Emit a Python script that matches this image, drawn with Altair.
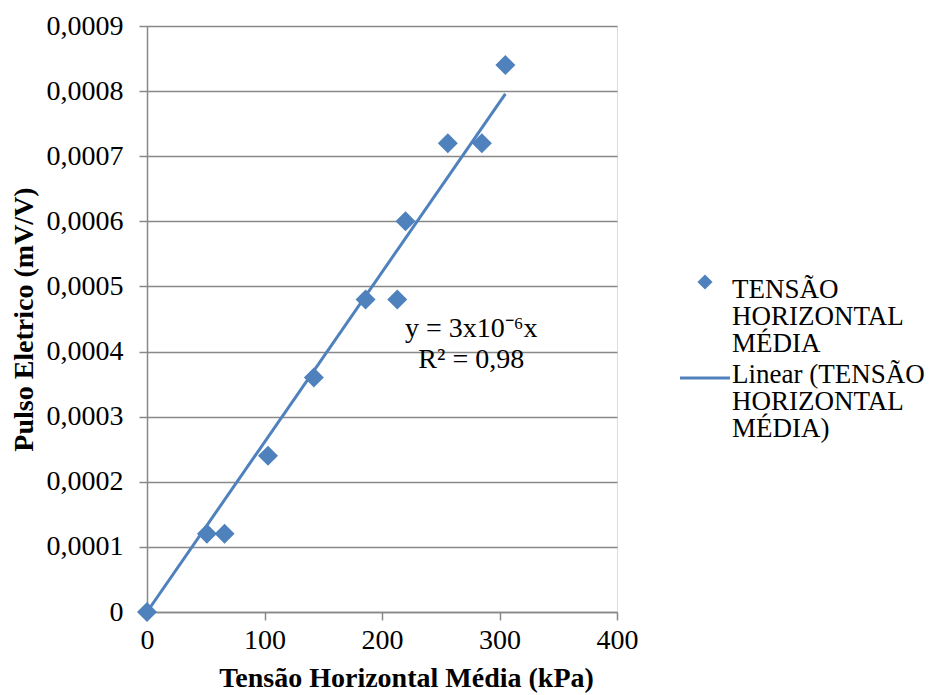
import altair as alt
import numpy as np
import pandas as pd

# Data
tensao_kpa = [0, 51, 66, 103, 142, 186, 213, 220, 256, 285, 305]
pulso_mvv = [0, 0.00012, 0.00012, 0.00024, 0.00036, 0.00048, 0.00048, 0.0006, 0.00072, 0.00072, 0.00084]

x_ticks = [0, 100, 200, 300, 400]
y_ticks = [i / 10000 for i in range(10)]

series_label = "TENSÃO\nHORIZONTAL\nMÉDIA"
trend_label = "Linear (TENSÃO\nHORIZONTAL\nMÉDIA)"
x_title = "Tensão Horizontal Média (kPa)"
y_title = "Pulso Eletrico (mV/V)"
eq_line1 = "y = 3x10⁻⁶x"
eq_line2 = "R² = 0,98"
eq_pos_x = 276
eq_pos_y1 = 0.000423
eq_pos_y2 = 0.000375

BLUE = "#4F81BD"
GRAY = "#888888"
FONT = "Liberation Serif"
FS = 28
LEG_FS = 27

pts = pd.DataFrame({"x": tensao_kpa, "y": pulso_mvv})
one = pd.DataFrame({"k": [0]})

# linear trend through the origin (least squares)
xa = np.array(tensao_kpa, dtype=float)
ya = np.array(pulso_mvv, dtype=float)
slope = float((xa * ya).sum() / (xa * xa).sum())
trend = pd.DataFrame({"x": [0.0, xa.max()], "y": [0.0, slope * xa.max()]})

xscale = alt.Scale(domain=[0, 400], nice=False)
yscale = alt.Scale(domain=[0, 0.0009], nice=False)

xaxis = alt.Axis(
    values=x_ticks, grid=False, domainColor=GRAY, domainWidth=1.5,
    tickColor=GRAY, tickWidth=1.5, tickSize=8, labelFont=FONT, labelFontSize=FS,
    labelColor="black", labelPadding=6, labelFlush=False,
    title=x_title, titleFont=FONT, titleFontSize=FS,
    titleFontWeight="bold", titleColor="black", titleX=259, titleY=74,
    titleAlign="center", titleBaseline="alphabetic",
)
yaxis = alt.Axis(
    values=y_ticks, grid=True, gridColor=GRAY, gridWidth=1.5,
    domainColor=GRAY, domainWidth=1.5, tickColor=GRAY, tickWidth=1.5, tickSize=8,
    labelFont=FONT, labelFontSize=FS, labelColor="black", labelPadding=16,
    labelFlush=False,
    labelExpr="datum.value == 0 ? '0' : replace(format(datum.value, '.4f'), '.', ',')",
    title=y_title, titleFont=FONT, titleFontSize=FS,
    titleFontWeight="bold", titleColor="black", titleAngle=270,
    titleX=-123, titleY=293, titleAlign="center", titleBaseline="middle",
)

points = alt.Chart(pts).mark_point(
    shape="diamond", filled=True, size=400, color=BLUE, opacity=1
).encode(
    x=alt.X("x:Q", scale=xscale, axis=xaxis),
    y=alt.Y("y:Q", scale=yscale, axis=yaxis),
)

line = alt.Chart(trend).mark_line(color=BLUE, strokeWidth=3).encode(
    x=alt.X("x:Q", scale=xscale),
    y=alt.Y("y:Q", scale=yscale),
)

eq1 = alt.Chart(one).mark_text(
    text=eq_line1, font=FONT, fontSize=FS, color="black", align="center", baseline="alphabetic"
).encode(x=alt.datum(eq_pos_x), y=alt.datum(eq_pos_y1))
eq2 = alt.Chart(one).mark_text(
    text=eq_line2, font=FONT, fontSize=FS, color="black", align="center", baseline="alphabetic"
).encode(x=alt.datum(eq_pos_x), y=alt.datum(eq_pos_y2))

# manual legend (pixel positions relative to plot area)
leg_sym = alt.Chart(one).mark_point(
    shape="diamond", filled=True, size=230, color=BLUE, opacity=1
).encode(x=alt.value(558), y=alt.value(256))
leg_txt1 = alt.Chart(one).mark_text(
    text=series_label, lineBreak="\n", lineHeight=27, font=FONT, fontSize=LEG_FS,
    color="black", align="left", baseline="alphabetic"
).encode(x=alt.value(585), y=alt.value(272))
leg_line = alt.Chart(one).mark_rule(color=BLUE, strokeWidth=3).encode(
    x=alt.value(533), x2=alt.value(583), y=alt.value(352)
)
leg_txt2 = alt.Chart(one).mark_text(
    text=trend_label, lineBreak="\n", lineHeight=27, font=FONT, fontSize=LEG_FS,
    color="black", align="left", baseline="alphabetic"
).encode(x=alt.value(585), y=alt.value(357))

chart = alt.layer(points, line, eq1, eq2, leg_sym, leg_txt1, leg_line, leg_txt2).properties(
    width=470, height=586,
    autosize=alt.AutoSizeParams(type="none"),
    padding={"left": 139, "top": 18, "right": 313, "bottom": 83},
).configure_view(strokeWidth=0).configure(background="white")

chart.save("out.html", embed_options={"renderer": "svg", "actions": False})
